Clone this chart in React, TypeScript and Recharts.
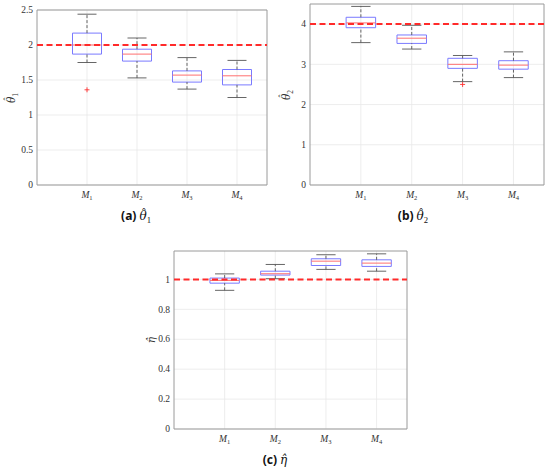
import React from 'react';
import {
  ComposedChart,
  XAxis,
  YAxis,
  CartesianGrid,
  ReferenceLine,
  ReferenceArea,
  Scatter,
} from 'recharts';

// ---------- data ----------
const modelSubscripts = ['1', '2', '3', '4'];
const modelPositions = [1, 2, 3, 4];
const xTicks = [1, 2, 3, 4];

const theta1Max = [2.44, 2.1, 1.82, 1.78];
const theta1Q3 = [2.17, 1.94, 1.63, 1.65];
const theta1Median = [2.0, 1.87, 1.57, 1.56];
const theta1Q1 = [1.87, 1.77, 1.47, 1.43];
const theta1Min = [1.75, 1.53, 1.37, 1.25];
const theta1Outliers = [{ x: 1, y: 1.36 }];
const theta1True = 2;
const theta1Ticks = [0, 0.5, 1, 1.5, 2, 2.5];

const theta2Max = [4.44, 3.97, 3.22, 3.31];
const theta2Q3 = [4.17, 3.73, 3.15, 3.09];
const theta2Median = [4.03, 3.65, 3.0, 2.98];
const theta2Q1 = [3.91, 3.52, 2.9, 2.88];
const theta2Min = [3.54, 3.38, 2.57, 2.67];
const theta2Outliers = [{ x: 3, y: 2.5 }];
const theta2True = 4;
const theta2Ticks = [0, 1, 2, 3, 4];

const etaMax = [1.037, 1.1, 1.165, 1.171];
const etaQ3 = [1.009, 1.055, 1.138, 1.131];
const etaMedian = [0.993, 1.038, 1.122, 1.109];
const etaQ1 = [0.975, 1.029, 1.093, 1.087];
const etaMin = [0.927, 1.005, 1.067, 1.055];
const etaOutliers: { x: number; y: number }[] = [];
const etaTrue = 1;
const etaTicks = [0, 0.2, 0.4, 0.6, 0.8, 1];

// ---------- styles ----------
const SERIF = 'Liberation Serif, DejaVu Serif, serif';
const MATH = 'DejaVu Serif, Liberation Serif, serif';
const BOX_HALF = 0.29;
const CAP_HALF = 0.19;
const BOX_COLOR = '#7a7aff';
const MEDIAN_COLOR = '#ff7070';
const WHISKER_COLOR = '#555555';
const TRUE_COLOR = '#ff2a2a';
const GRID_COLOR = '#e8e8e8';
const FRAME_COLOR = '#9a9a9a';
const TICK_COLOR = '#333333';

const XTick = (props: any) => {
  const { x, y, payload } = props;
  const idx = modelPositions.indexOf(payload.value);
  const sub = idx >= 0 ? modelSubscripts[idx] : '';
  return (
    <text x={x} y={y + 13} textAnchor="middle" fill={TICK_COLOR} style={{ fontFamily: SERIF, fontSize: 9.5 }}>
      <tspan style={{ fontStyle: 'italic' }}>M</tspan>
      <tspan style={{ fontSize: 6.5 }} dy={2}>{sub}</tspan>
    </text>
  );
};

const YTick = (props: any) => {
  const { x, y, payload } = props;
  return (
    <text x={x} y={y} dy={3.2} textAnchor="end" fill={TICK_COLOR} style={{ fontFamily: SERIF, fontSize: 9.5 }}>
      {String(payload.value)}
    </text>
  );
};

const PlusShape = (props: any) => {
  const { cx, cy } = props;
  if (cx == null || cy == null) return null;
  return (
    <path
      d={`M${cx - 2.5},${cy}H${cx + 2.5}M${cx},${cy - 2.5}V${cy + 2.5}`}
      stroke="#ff3030"
      strokeWidth={0.9}
      fill="none"
    />
  );
};

function boxElements(
  prefix: string,
  max: number[],
  q3: number[],
  med: number[],
  q1: number[],
  min: number[]
) {
  const els: React.ReactNode[] = [];
  modelPositions.forEach((p, i) => {
    els.push(
      <ReferenceLine
        key={`${prefix}-wu-${i}`}
        segment={[{ x: p, y: q3[i] }, { x: p, y: max[i] }]}
        stroke={WHISKER_COLOR}
        strokeWidth={0.9}
        strokeDasharray="3 2"
        ifOverflow="visible"
      />,
      <ReferenceLine
        key={`${prefix}-wl-${i}`}
        segment={[{ x: p, y: min[i] }, { x: p, y: q1[i] }]}
        stroke={WHISKER_COLOR}
        strokeWidth={0.9}
        strokeDasharray="3 2"
        ifOverflow="visible"
      />,
      <ReferenceLine
        key={`${prefix}-cu-${i}`}
        segment={[{ x: p - CAP_HALF, y: max[i] }, { x: p + CAP_HALF, y: max[i] }]}
        stroke={WHISKER_COLOR}
        strokeWidth={0.9}
        ifOverflow="visible"
      />,
      <ReferenceLine
        key={`${prefix}-cl-${i}`}
        segment={[{ x: p - CAP_HALF, y: min[i] }, { x: p + CAP_HALF, y: min[i] }]}
        stroke={WHISKER_COLOR}
        strokeWidth={0.9}
        ifOverflow="visible"
      />,
      <ReferenceArea
        key={`${prefix}-box-${i}`}
        x1={p - BOX_HALF}
        x2={p + BOX_HALF}
        y1={q1[i]}
        y2={q3[i]}
        fill="none"
        fillOpacity={0}
        stroke={BOX_COLOR}
        strokeWidth={1}
        ifOverflow="visible"
      />,
      <ReferenceLine
        key={`${prefix}-med-${i}`}
        segment={[{ x: p - BOX_HALF, y: med[i] }, { x: p + BOX_HALF, y: med[i] }]}
        stroke={MEDIAN_COLOR}
        strokeWidth={1}
        ifOverflow="visible"
      />
    );
  });
  return els;
}

type PanelProps = {
  width: number;
  height: number;
  margin: { top: number; right: number; left: number; bottom: number };
  yWidth: number;
  yMax: number;
  yTicks: number[];
  max: number[];
  q3: number[];
  med: number[];
  q1: number[];
  min: number[];
  outliers: { x: number; y: number }[];
  trueValue: number;
  prefix: string;
};

function Panel(p: PanelProps) {
  return (
    <ComposedChart width={p.width} height={p.height} margin={p.margin}>
      <CartesianGrid stroke={GRID_COLOR} strokeWidth={0.8} horizontalValues={p.yTicks} verticalValues={xTicks} />
      <XAxis
        type="number"
        dataKey="x"
        domain={[0, 4.6]}
        ticks={xTicks}
        allowDataOverflow
        height={20}
        tickLine={false}
        axisLine={false}
        tickSize={0}
        tickMargin={0}
        tick={<XTick />}
        interval={0}
      />
      <YAxis
        type="number"
        dataKey="y"
        domain={[0, p.yMax]}
        ticks={p.yTicks}
        allowDataOverflow
        width={p.yWidth}
        tickLine={false}
        axisLine={false}
        tickSize={0}
        tickMargin={4}
        interval={0}
        tick={<YTick />}
      />
      <ReferenceArea
        x1={0}
        x2={4.6}
        y1={0}
        y2={p.yMax}
        fill="none"
        fillOpacity={0}
        stroke={FRAME_COLOR}
        strokeWidth={1}
        ifOverflow="visible"
      />
      {boxElements(p.prefix, p.max, p.q3, p.med, p.q1, p.min)}
      <Scatter data={p.outliers} dataKey="y" shape={<PlusShape />} isAnimationActive={false} />
      <ReferenceLine
        y={p.trueValue}
        stroke={TRUE_COLOR}
        strokeWidth={2}
        strokeDasharray="6 3.5"
        ifOverflow="visible"
      />
    </ComposedChart>
  );
}

// θ with an overlaid hat (combining mark does not attach to θ in the available fonts)
const ThetaHat = ({ sub }: { sub: string }) => (
  <span style={{ fontFamily: MATH, fontStyle: 'italic' }}>
    <span style={{ position: 'relative', display: 'inline-block' }}>
      θ
      <span
        style={{
          position: 'absolute',
          left: 0,
          right: 0,
          top: '-0.3em',
          textAlign: 'center',
          fontStyle: 'normal',
          paddingLeft: '0.15em',
          fontSize: '0.95em',
        }}
      >
        {'\u02C6'}
      </span>
    </span>
    <sub style={{ fontStyle: 'normal', fontSize: '0.72em', fontFamily: SERIF }}>{sub}</sub>
  </span>
);

const EtaHat = () => (
  <span style={{ fontFamily: MATH, fontStyle: 'italic' }}>{'η\u0302'}</span>
);

const abs = (left: number, top: number): React.CSSProperties => ({
  position: 'absolute',
  left,
  top,
});

const yLabelStyle = (cx: number, cy: number): React.CSSProperties => ({
  position: 'absolute',
  left: cx - 20,
  top: cy - 8,
  width: 40,
  height: 16,
  lineHeight: '16px',
  textAlign: 'center',
  transform: 'rotate(-90deg)',
  fontSize: 10.5,
  color: '#333',
  whiteSpace: 'nowrap',
});

const captionStyle = (cx: number, cy: number): React.CSSProperties => ({
  position: 'absolute',
  left: cx - 60,
  top: cy - 9,
  width: 120,
  height: 18,
  lineHeight: '18px',
  textAlign: 'center',
  fontSize: 12,
  color: '#111',
  whiteSpace: 'nowrap',
});

const capLabel: React.CSSProperties = { fontFamily: '"Noto Sans", "Open Sans", sans-serif', fontWeight: 700 };

export default function App() {
  return (
    <div style={{ position: 'absolute', left: 0, top: 0, width: 550, height: 469, background: '#fff', overflow: 'hidden' }}>
      <div style={abs(0, 0)}>
        <Panel
          prefix="a"
          width={275}
          height={205}
          margin={{ top: 10, right: 8, left: 0, bottom: 0 }}
          yWidth={37}
          yMax={2.5}
          yTicks={theta1Ticks}
          max={theta1Max}
          q3={theta1Q3}
          med={theta1Median}
          q1={theta1Q1}
          min={theta1Min}
          outliers={theta1Outliers}
          trueValue={theta1True}
        />
      </div>
      <div style={abs(275, 0)}>
        <Panel
          prefix="b"
          width={275}
          height={205}
          margin={{ top: 4, right: 6, left: 0, bottom: 0 }}
          yWidth={35}
          yMax={4.5}
          yTicks={theta2Ticks}
          max={theta2Max}
          q3={theta2Q3}
          med={theta2Median}
          q1={theta2Q1}
          min={theta2Min}
          outliers={theta2Outliers}
          trueValue={theta2True}
        />
      </div>
      <div style={abs(130, 240)}>
        <Panel
          prefix="c"
          width={300}
          height={209}
          margin={{ top: 11, right: 23, left: 0, bottom: 0 }}
          yWidth={44}
          yMax={1.19}
          yTicks={etaTicks}
          max={etaMax}
          q3={etaQ3}
          med={etaMedian}
          q1={etaQ1}
          min={etaMin}
          outliers={etaOutliers}
          trueValue={etaTrue}
        />
      </div>

      <div style={yLabelStyle(11, 98)}>
        <ThetaHat sub="1" />
      </div>
      <div style={yLabelStyle(286, 95)}>
        <ThetaHat sub="2" />
      </div>
      <div style={yLabelStyle(151, 340)}>
        <EtaHat />
      </div>

      <div style={captionStyle(136, 216)}>
        <span style={capLabel}>(a)</span> <ThetaHat sub="1" />
      </div>
      <div style={captionStyle(413, 216)}>
        <span style={capLabel}>(b)</span> <ThetaHat sub="2" />
      </div>
      <div style={captionStyle(275, 460)}>
        <span style={capLabel}>(c)</span> <EtaHat />
      </div>
    </div>
  );
}
